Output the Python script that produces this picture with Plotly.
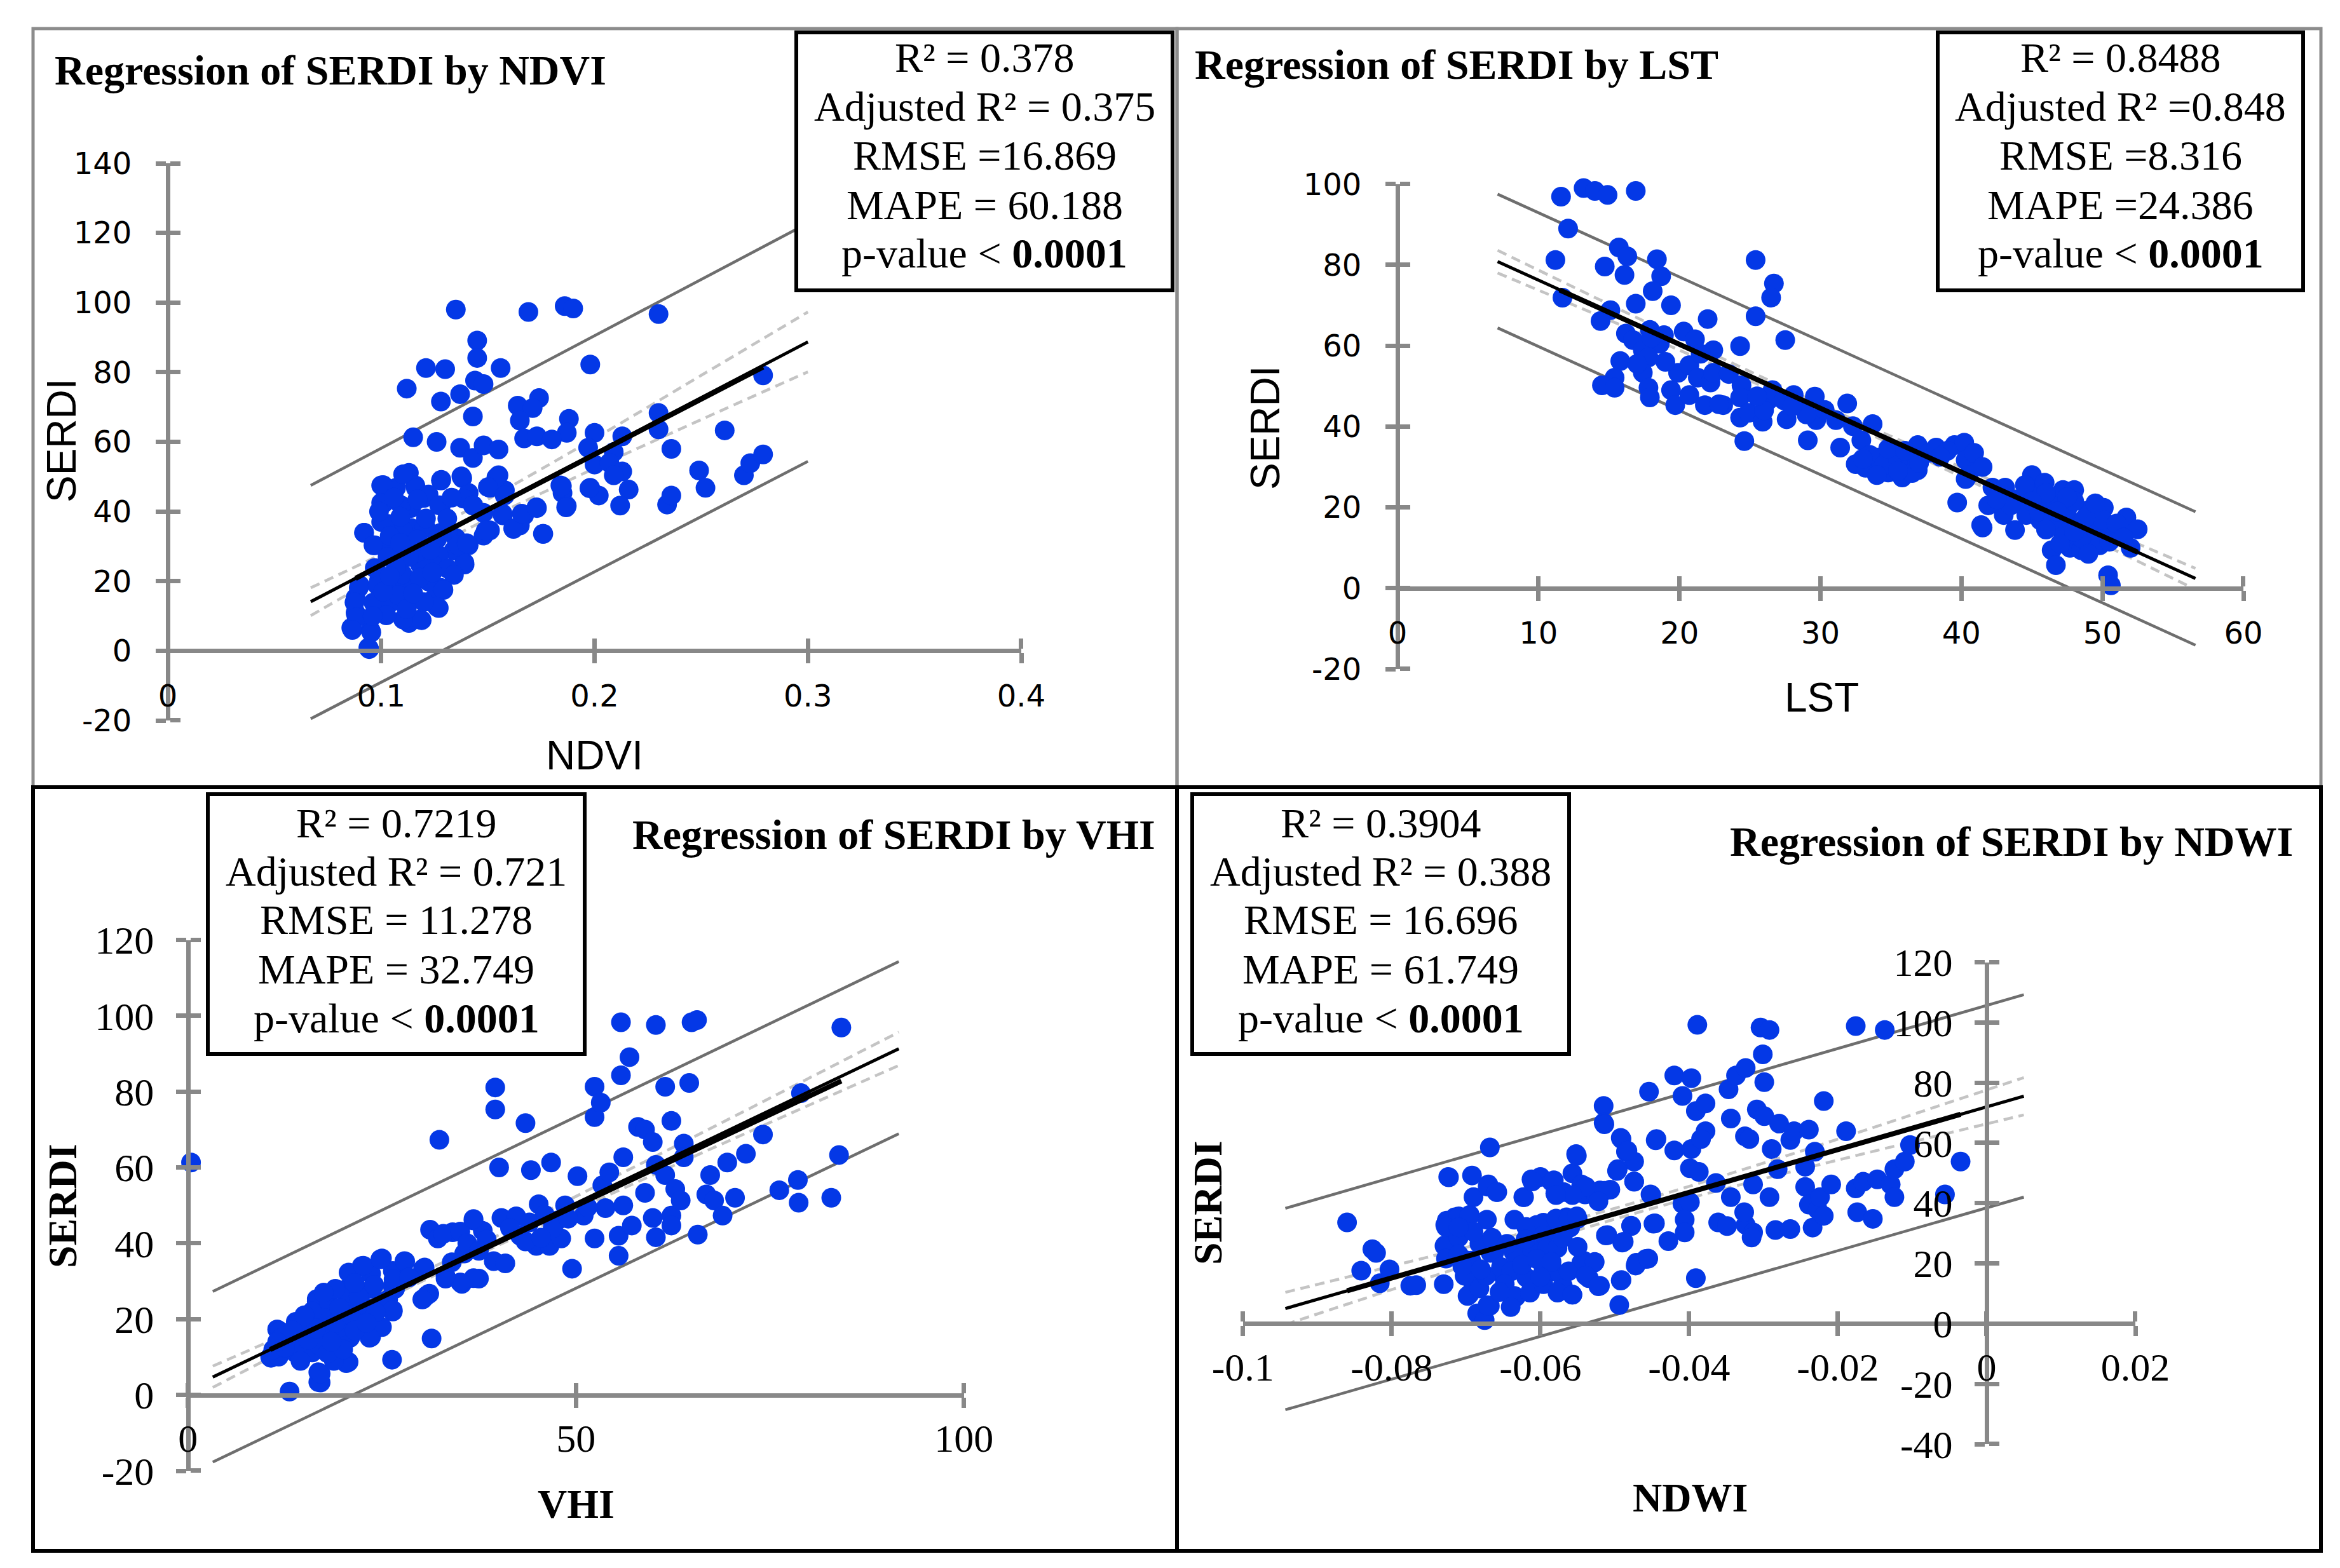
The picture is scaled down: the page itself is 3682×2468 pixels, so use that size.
import plotly.graph_objects as go

W, H = 3682, 2468
BLUE = '#0438E6'
AXC = '#888888'
PREDC = '#6E6E6E'
CONFC = '#C4C4C4'

# ---------------- data ----------------
ndvi_points = [
    (0.135, 98.0), (0.169, 97.3), (0.186, 99.0), (0.190, 98.3), (0.230, 96.7), (0.145, 89.1), (0.145, 84.1),
    (0.121, 81.2), (0.130, 80.9), (0.156, 81.2), (0.198, 82.2), (0.144, 77.6), (0.148, 76.6), (0.112, 75.3),
    (0.137, 73.7), (0.128, 71.6), (0.174, 72.6), (0.164, 70.4), (0.171, 69.7), (0.165, 66.1), (0.143, 67.3),
    (0.188, 66.6), (0.279, 79.1), (0.230, 68.3), (0.230, 63.6), (0.261, 63.3), (0.200, 62.6), (0.187, 62.6),
    (0.167, 61.0), (0.173, 61.6), (0.180, 60.7), (0.213, 61.6), (0.115, 61.3), (0.126, 60.0), (0.137, 58.3),
    (0.143, 55.4), (0.148, 59.0), (0.155, 57.8), (0.197, 58.3), (0.236, 58.0), (0.209, 57.1), (0.200, 53.5),
    (0.207, 54.0), (0.249, 51.8), (0.213, 51.5), (0.209, 50.4), (0.216, 46.3), (0.252, 46.8), (0.184, 47.5),
    (0.185, 45.3), (0.187, 41.6), (0.198, 46.8), (0.202, 44.6), (0.212, 41.7), (0.234, 42.0), (0.236, 44.6),
    (0.270, 50.4), (0.273, 53.9), (0.279, 56.4), (0.155, 50.4), (0.151, 46.8), (0.158, 46.1), (0.138, 49.6),
    (0.128, 48.9), (0.113, 51.1), (0.141, 45.3), (0.143, 41.7), (0.148, 39.6), (0.157, 38.9), (0.167, 38.9),
    (0.173, 41.0), (0.162, 35.0), (0.165, 36.0), (0.176, 33.6), (0.151, 34.6), (0.148, 33.1), (0.128, 41.7),
    (0.120, 43.9), (0.100, 47.5), (0.102, 43.9), (0.100, 42.5), (0.107, 46.8), (0.116, 47.5), (0.121, 44.6),
    (0.114, 41.0), (0.092, 33.9), (0.097, 30.3), (0.106, 36.0), (0.114, 35.3), (0.121, 35.3), (0.128, 33.9),
    (0.135, 32.4), (0.141, 30.3), (0.134, 28.8), (0.127, 27.4), (0.139, 25.3), (0.134, 22.4), (0.128, 18.1),
    (0.125, 15.2), (0.127, 12.3), (0.119, 8.8), (0.113, 8.0), (0.095, 5.9), (0.086, 6.6), (0.094, 0.9),
    (0.088, 15.2), (0.090, 18.8), (0.088, 10.9), (0.099, 20.2), (0.097, 23.8),
    (0.1009, 47.6), (0.1103, 50.7), (0.1163, 46.7), (0.1014, 42.5), (0.1093, 41.8), (0.1222, 44.9),
    (0.1282, 49.1), (0.1272, 41.8), (0.1376, 50.1), (0.1386, 43.7), (0.1431, 41.8), (0.1540, 49.8),
    (0.1500, 47.0), (0.1579, 44.6), (0.1569, 39.4), (0.1619, 35.2), (0.1659, 39.4), (0.1728, 41.2),
    (0.1758, 33.6), (0.1490, 34.5), (0.1847, 47.3), (0.1867, 41.2), (0.1976, 46.7), (0.0920, 33.9),
    (0.0964, 30.3), (0.1034, 36.4), (0.1103, 34.5), (0.1202, 35.2), (0.1143, 30.3), (0.1262, 32.1),
    (0.1312, 34.5), (0.1361, 30.3), (0.1401, 30.9), (0.0974, 23.6), (0.1063, 26.0), (0.1182, 24.8),
    (0.1242, 24.8), (0.1312, 23.6), (0.1391, 24.8), (0.1341, 21.8), (0.0895, 18.1), (0.0875, 13.9),
    (0.0984, 18.7), (0.1063, 19.9), (0.1143, 18.7), (0.1222, 19.9), (0.1292, 17.5), (0.1262, 12.6),
    (0.0964, 13.9), (0.1044, 13.9), (0.1123, 15.1), (0.1182, 9.0), (0.1103, 9.0), (0.1024, 10.2),
    (0.0885, 9.6), (0.0865, 6.0), (0.0954, 5.3), (0.0944, 0.5), (0.105, 30.0), (0.110, 22.0),
    (0.116, 28.0), (0.108, 16.0), (0.120, 14.0), (0.103, 27.0), (0.112, 12.0), (0.117, 32.0),
    (0.100, 37.0), (0.106, 44.0),
    (0.099, 40.0), (0.104, 33.0), (0.109, 38.5), (0.113, 27.0), (0.118, 21.0), (0.123, 29.0), (0.107, 24.0),
    (0.101, 17.0), (0.096, 10.0), (0.115, 16.5), (0.121, 38.0), (0.131, 38.0), (0.124, 22.5), (0.109, 31.0),
    (0.104, 21.5), (0.117, 43.5), (0.133, 44.0),
]

lst_points = [
    (11.6, 96.9), (13.2, 99.0), (14.0, 98.3), (14.9, 97.3), (16.9, 98.3), (12.1, 89.0), (11.2, 81.2),
    (15.7, 84.3), (16.3, 82.1), (14.7, 79.6), (18.4, 81.4), (18.7, 77.2), (16.1, 77.5), (18.1, 73.5),
    (16.9, 70.4), (19.4, 70.0), (11.7, 71.9), (15.1, 68.8), (14.4, 66.1), (22.0, 66.6), (25.4, 81.2),
    (26.7, 75.4), (26.5, 71.9), (25.4, 67.3), (27.5, 61.4), (24.3, 59.9), (16.2, 63.0), (16.7, 61.4),
    (17.9, 63.9), (18.9, 62.6), (20.3, 63.5), (21.1, 61.6), (22.4, 58.9), (18.6, 60.5), (17.4, 58.9),
    (17.8, 57.1), (15.8, 56.2), (17.4, 53.3), (15.4, 52.1), (14.5, 50.2), (15.4, 49.6), (17.8, 49.6),
    (17.9, 47.2), (19.4, 49.0), (19.7, 45.3), (19.9, 53.3), (20.7, 55.2), (21.3, 52.1), (20.7, 47.8),
    (21.8, 45.3), (22.2, 50.9), (22.4, 53.3), (23.1, 45.3), (24.4, 50.2), (24.3, 47.2), (24.3, 42.2),
    (24.9, 43.4), (24.6, 36.4), (25.9, 41.2), (26.3, 46.5), (26.6, 49.0), (27.4, 46.5), (28.1, 47.8),
    (27.6, 41.8), (28.9, 44.1), (29.6, 47.4), (29.7, 41.6), (29.1, 36.6), (30.3, 44.1), (31.1, 41.6),
    (31.9, 45.7), (31.4, 34.8), (32.3, 40.1), (33.7, 40.6), (32.9, 36.6), (32.5, 30.7), (33.2, 29.8),
    (34.0, 32.3), (34.8, 28.6), (35.0, 32.9), (35.8, 27.4), (35.8, 30.7), (36.9, 29.2), (36.9, 35.4),
    (36.3, 32.3), (37.7, 33.5), (38.2, 34.8), (39.5, 35.4), (40.2, 36.0), (40.3, 31.7), (40.9, 33.5),
    (40.5, 28.0), (40.3, 27.0), (39.7, 21.2), (41.9, 20.5), (42.2, 24.9), (43.1, 24.9), (43.0, 18.1),
    (41.4, 15.6), (41.5, 15.0), (43.8, 14.4), (44.6, 18.1), (45.0, 28.0), (45.1, 24.3), (45.9, 26.1),
    (46.1, 22.4), (46.7, 20.5), (47.2, 24.3), (48.0, 24.3), (46.4, 9.4), (46.7, 5.7), (47.7, 10.0),
    (48.3, 15.6), (49.0, 19.3), (49.3, 11.9), (50.1, 19.9), (50.4, 15.6), (50.4, 3.2), (50.6, 0.7),
    (51.3, 14.4), (51.7, 17.5), (52.0, 10.0), (52.5, 14.6), (48.5, 9.4), (49.8, 10.6), (47.2, 13.7),
    (45.6, 16.8), (47.7, 16.8), (50.9, 13.1), (33.5, 33.0), (34.5, 30.5), (35.5, 31.5), (36.5, 28.5),
    (34.0, 28.0), (37.0, 31.0), (44.0, 22.0), (45.5, 19.0), (46.5, 17.0), (47.5, 19.5), (48.5, 12.5),
    (49.5, 14.5), (50.0, 17.0), (51.0, 16.0), (48.0, 21.5), (46.0, 23.5), (49.0, 8.5), (47.0, 11.0),
    (44.5, 25.5), (39.0, 34.0), (41.5, 30.0), (38.5, 32.5), (29.0, 43.0), (28.0, 45.0), (26.0, 44.0),
    (25.5, 47.5), (22.8, 45.5), (23.5, 53.0), (21.5, 58.0), (19.0, 56.0), (18.0, 62.0), (17.0, 55.5),
    (45.0, 21.5), (46.0, 14.5), (47.5, 22.5), (48.8, 17.5), (49.5, 21.0), (50.5, 11.5), (51.5, 12.5),
    (48.0, 14.0), (43.5, 20.5), (42.5, 22.0), (46.8, 19.0), (34.8, 34.5), (35.5, 29.0), (33.0, 32.0),
    (36.0, 34.0),
]

vhi_points = [
    (0.4, 61.3), (13.1, 0.9), (17.1, 3.3), (16.8, 6.0), (20.7, 8.7), (26.3, 9.3), (31.4, 14.9), (10.6, 10.0),
    (11.5, 17.3), (12.2, 14.0), (13.9, 19.3), (15.9, 19.3), (16.6, 25.3), (17.8, 23.3), (18.8, 16.7),
    (19.7, 14.0), (20.5, 28.0), (21.2, 23.3), (22.1, 19.3), (23.6, 15.3), (24.5, 18.0), (20.7, 32.3),
    (22.4, 34.0), (23.6, 32.0), (25.0, 36.0), (26.4, 32.7), (26.4, 28.7), (26.4, 22.0), (25.5, 24.7),
    (27.9, 35.3), (30.3, 33.3), (30.3, 25.3), (31.1, 26.7), (31.2, 43.6), (32.2, 41.3), (32.4, 67.3),
    (34.1, 42.9), (33.2, 30.7), (35.3, 29.3), (35.6, 37.3), (36.8, 46.0), (37.5, 30.7), (38.0, 43.3),
    (39.6, 81.1), (39.6, 75.3), (40.1, 60.0), (40.4, 46.7), (39.4, 35.3), (40.9, 34.7), (42.3, 47.1),
    (42.8, 42.0), (43.5, 71.7), (44.2, 59.3), (45.2, 50.3), (44.9, 39.3), (46.6, 39.3), (46.8, 61.3),
    (47.6, 46.0), (48.1, 41.3), (48.6, 50.0), (49.5, 33.3), (50.2, 57.7), (51.0, 47.3), (52.4, 81.3),
    (52.4, 73.3), (53.2, 77.1), (52.4, 41.3), (53.4, 55.3), (53.8, 49.3), (54.3, 58.7), (55.8, 98.3),
    (55.8, 84.3), (56.9, 89.1), (56.1, 62.7), (56.1, 50.0), (55.5, 42.0), (55.5, 36.7), (57.2, 44.7),
    (58.0, 70.7), (58.9, 70.0), (58.9, 53.3), (59.9, 66.7), (60.3, 97.6), (60.3, 60.7), (59.9, 46.7),
    (60.3, 41.6), (61.5, 81.3), (61.5, 58.0), (62.3, 72.3), (62.3, 47.3), (62.3, 44.7), (62.8, 54.3),
    (63.5, 51.3), (63.9, 66.3), (63.9, 62.7), (64.6, 82.3), (64.9, 98.3), (65.6, 98.9), (65.7, 42.3),
    (66.8, 52.9), (67.3, 58.0), (67.8, 51.3), (68.9, 47.3), (69.5, 61.3), (70.5, 52.0), (71.9, 63.6),
    (74.1, 68.7), (76.2, 54.0), (78.6, 56.7), (78.7, 50.7), (79.0, 79.6), (82.9, 52.0), (83.9, 63.3),
    (84.2, 96.9),
    (16.8, 3.4), (17.1, 5.6), (10.7, 9.8), (11.7, 10.1), (11.9, 16.8), (14.1, 18.5), (15.7, 19.1),
    (16.6, 24.6), (18.2, 24.1), (20.4, 26.9), (20.8, 32.2), (22.6, 34.1), (24.8, 35.8), (28.0, 35.2),
    (30.5, 33.6), (23.7, 28.0), (25.8, 25.2), (26.4, 22.4), (25.0, 17.9), (23.4, 15.1), (20.9, 15.1),
    (22.0, 20.2), (19.6, 17.9), (17.7, 15.7), (14.9, 13.5), (12.7, 13.5), (20.4, 8.4), (18.8, 9.0),
    (16.0, 11.2), (13.8, 11.2), (19.3, 21.3), (17.7, 20.2), (22.6, 23.5), (24.2, 21.8), (32.9, 42.5),
    (35.1, 43.1), (36.8, 46.4), (35.7, 37.5), (36.8, 30.8), (35.1, 29.7), (33.2, 31.4), (30.8, 26.3),
    (30.2, 25.2), (26.7, 28.0), (38.5, 41.0), (41.5, 44.0), (43.5, 40.5), (46.0, 47.5), (47.0, 44.0),
    (44.0, 45.5), (49.0, 46.5), (51.5, 49.5), (36.0, 40.0), (34.0, 35.0), (37.5, 38.0), (45.5, 41.5),
    (13.0, 15.5), (15.0, 17.0), (17.0, 13.0), (19.0, 19.0), (21.0, 21.0), (14.0, 12.0), (16.0, 22.0),
    (18.0, 11.0), (12.0, 15.0), (11.0, 12.0), (20.0, 12.0), (22.0, 26.0), (24.0, 29.0), (19.0, 28.0),
    (12.5, 12.5), (13.5, 17.0), (15.5, 14.5), (16.5, 17.5), (18.5, 14.0), (19.5, 23.0), (21.5, 17.0),
    (23.0, 19.0), (15.0, 21.0), (17.5, 27.0), (21.5, 29.5), (26.5, 30.5), (28.5, 31.0), (14.5, 9.0),
    (11.5, 14.0),
]

ndwi_points = [
    (-0.0860, 33.6), (-0.0841, 17.6), (-0.0826, 24.7), (-0.0821, 23.5), (-0.0816, 13.4), (-0.0803, 18.0),
    (-0.0775, 12.6), (-0.0730, 13.1), (-0.0724, 48.7), (-0.0692, 49.2), (-0.0668, 58.5), (-0.0670, 46.2),
    (-0.0658, 43.7), (-0.0690, 42.0), (-0.0728, 32.8), (-0.0715, 35.3), (-0.0695, 36.1), (-0.0672, 34.5),
    (-0.0728, 26.1), (-0.0715, 24.4), (-0.0700, 21.0), (-0.0680, 26.1), (-0.0667, 23.5), (-0.0690, 12.6),
    (-0.0698, 9.2), (-0.0685, 3.4), (-0.0675, 1.2), (-0.0668, 5.9), (-0.0650, 16.0), (-0.0635, 9.2),
    (-0.0623, 42.0), (-0.0615, 31.6), (-0.0635, 34.5), (-0.0612, 47.9), (-0.0600, 48.7), (-0.0585, 47.1),
    (-0.0580, 43.2), (-0.0569, 43.7), (-0.0557, 49.9), (-0.0552, 56.3), (-0.0545, 46.2), (-0.0540, 42.9),
    (-0.0525, 42.0), (-0.0520, 44.2), (-0.0506, 44.5), (-0.0515, 72.3), (-0.0515, 66.7), (-0.0492, 61.7),
    (-0.0485, 57.1), (-0.0474, 53.8), (-0.0496, 51.3), (-0.0474, 47.1), (-0.0605, 32.8), (-0.0595, 29.4),
    (-0.0580, 34.5), (-0.0565, 35.3), (-0.0550, 34.8), (-0.0560, 31.9), (-0.0510, 29.4), (-0.0490, 26.9),
    (-0.0478, 32.4), (-0.0545, 20.2), (-0.0528, 20.2), (-0.0535, 15.1), (-0.0520, 12.6), (-0.0557, 9.6),
    (-0.0570, 12.6), (-0.0492, 14.3), (-0.0494, 6.2), (-0.0472, 19.3), (-0.0458, 21.5), (-0.0454, 77.0),
    (-0.0444, 61.3), (-0.0452, 42.9), (-0.0446, 33.3), (-0.0428, 27.4), (-0.0420, 82.4), (-0.0397, 81.5),
    (-0.0409, 75.6), (-0.0420, 57.5), (-0.0397, 58.0), (-0.0399, 51.6), (-0.0387, 50.4), (-0.0389, 99.2),
    (-0.0391, 70.6), (-0.0378, 73.1), (-0.0378, 63.9), (-0.0384, 61.3), (-0.0409, 39.8), (-0.0399, 40.3),
    (-0.0406, 34.5), (-0.0406, 30.3), (-0.0391, 15.1), (-0.0364, 46.7), (-0.0361, 33.6), (-0.0349, 32.4),
    (-0.0347, 77.8), (-0.0344, 68.1), (-0.0344, 42.0), (-0.0337, 82.4), (-0.0324, 84.9), (-0.0324, 32.8),
    (-0.0325, 62.2), (-0.0319, 61.3), (-0.0326, 37.0), (-0.0314, 46.2), (-0.0314, 30.3), (-0.0316, 28.6),
    (-0.0304, 98.3), (-0.0292, 97.5), (-0.0301, 89.4), (-0.0299, 80.2), (-0.0309, 71.1), (-0.0299, 68.9),
    (-0.0289, 58.0), (-0.0284, 31.1), (-0.0292, 42.0), (-0.0279, 66.4), (-0.0281, 51.3), (-0.0264, 31.4),
    (-0.0264, 61.0), (-0.0259, 63.9), (-0.0239, 64.4), (-0.0244, 52.1), (-0.0244, 45.4), (-0.0239, 39.5),
    (-0.0234, 31.9), (-0.0231, 57.1), (-0.0227, 37.8), (-0.0219, 73.9), (-0.0219, 35.8), (-0.0224, 42.0),
    (-0.0209, 46.2), (-0.0189, 63.9), (-0.0176, 98.8), (-0.0137, 97.5), (-0.0176, 44.9), (-0.0174, 37.0),
    (-0.0166, 47.1), (-0.0153, 34.8), (-0.0147, 47.9), (-0.0129, 46.2), (-0.0124, 42.0), (-0.0124, 51.3),
    (-0.0110, 53.8), (-0.0103, 59.3), (-0.0056, 42.9), (-0.0035, 53.8),
    (-0.0723, 48.6), (-0.0671, 45.5), (-0.0659, 43.7), (-0.0551, 55.7), (-0.0514, 66.2), (-0.0491, 61.3),
    (-0.0483, 57.4), (-0.0497, 50.7), (-0.0474, 47.2), (-0.0445, 60.9), (-0.0622, 42.0), (-0.0611, 47.2),
    (-0.0582, 47.6), (-0.0539, 45.5), (-0.0514, 44.1), (-0.0522, 40.6), (-0.0557, 42.7), (-0.0579, 42.7),
    (-0.0451, 42.7), (-0.0448, 33.2), (-0.0478, 32.5), (-0.0512, 29.3), (-0.0488, 27.2), (-0.0619, 32.1),
    (-0.0596, 33.5), (-0.0579, 34.9), (-0.0562, 34.9), (-0.0551, 35.6), (-0.0596, 29.3), (-0.0726, 34.2),
    (-0.0710, 35.6), (-0.0696, 35.6), (-0.0727, 32.1), (-0.0729, 25.8), (-0.0710, 28.6), (-0.0682, 26.5),
    (-0.0662, 23.7), (-0.0727, 21.6), (-0.0710, 23.0), (-0.0693, 20.9), (-0.0767, 12.8), (-0.0702, 15.9),
    (-0.0696, 9.6), (-0.0682, 11.7), (-0.0671, 6.1), (-0.0673, 15.9), (-0.0653, 18.8), (-0.0636, 23.7),
    (-0.0631, 21.6), (-0.0611, 24.4), (-0.0591, 25.1), (-0.0577, 25.1), (-0.0639, 17.4), (-0.0619, 15.3),
    (-0.0596, 18.8), (-0.0582, 17.4), (-0.0562, 17.4), (-0.0648, 13.1), (-0.0633, 8.9), (-0.0614, 10.3),
    (-0.0596, 13.1), (-0.0577, 10.3), (-0.0557, 9.6), (-0.0542, 20.9), (-0.0527, 20.5), (-0.0539, 15.9),
    (-0.0522, 12.4), (-0.0491, 14.5), (-0.0471, 20.2), (-0.0455, 21.6),
    (-0.0705, 19.0), (-0.0690, 30.5), (-0.0665, 28.5), (-0.0645, 26.5), (-0.0625, 19.5), (-0.0605, 21.5),
    (-0.0585, 20.5), (-0.0600, 15.5), (-0.0655, 10.5), (-0.0680, 18.0), (-0.0620, 28.0), (-0.0570, 28.5),
    (-0.0550, 25.5), (-0.0640, 5.5), (-0.0710, 32.0),
]

# regression lines (fit, confidence band, prediction band)
ndvi_fit_x, ndvi_fit_y = [0.067, 0.300], [14.1, 88.7]
ndvi_fitdata_x, ndvi_fitdata_y = [0.088, 0.279], [20.8, 81.5]
ndvi_conf_x = [0.067, 0.13, 0.20, 0.25, 0.30]
ndvi_conf_hi = [18.1, 36.9, 61.0, 79.1, 97.3]
ndvi_conf_lo = [10.1, 31.7, 52.4, 66.4, 80.1]
ndvi_pred_x, ndvi_pred_hi, ndvi_pred_lo = [0.067, 0.300], [47.5, 122.8], [-19.5, 54.4]

lst_fit_x, lst_fit_y = [7.1, 56.6], [80.8, 2.4]
lst_fitdata_x, lst_fitdata_y = [11.5, 52.5], [73.8, 8.9]
lst_conf_x = [7.1, 20.0, 32.0, 45.0, 56.6]
lst_conf_hi = [83.6, 61.9, 42.3, 22.3, 4.9]
lst_conf_lo = [78.0, 58.9, 40.5, 19.3, -0.3]
lst_pred_x, lst_pred_hi, lst_pred_lo = [7.1, 56.6], [97.5, 18.9], [64.4, -14.1]

vhi_fit_x, vhi_fit_y = [3.2, 91.6], [4.7, 91.3]
vhi_fitdata_x, vhi_fitdata_y = [10.6, 84.2], [12.0, 82.8]
vhi_conf_x = [3.2, 30.0, 60.0, 91.6]
vhi_conf_hi = [7.6, 32.2, 62.7, 95.7]
vhi_conf_lo = [2.0, 29.8, 58.1, 86.9]
vhi_pred_x, vhi_pred_hi, vhi_pred_lo = [3.2, 91.6], [27.3, 114.3], [-17.7, 68.9]

ndwi_fit_x, ndwi_fit_y = [-0.0943, 0.005], [5.0, 75.5]
ndwi_fitdata_x, ndwi_fitdata_y = [-0.086, -0.0035], [10.9, 69.5]
ndwi_conf_x = [-0.0943, -0.07, -0.05, -0.03, 0.005]
ndwi_conf_hi = [10.4, 25.3, 38.3, 53.3, 81.7]
ndwi_conf_lo = [-0.3, 19.3, 34.7, 48.1, 69.3]
ndwi_pred_x, ndwi_pred_hi, ndwi_pred_lo = [-0.0943, 0.005], [38.3, 109.2], [-28.6, 42.0]

# tick values / labels
ndvi_xticks = [0, 0.1, 0.2, 0.3, 0.4]
ndvi_xlabels = ['0', '0.1', '0.2', '0.3', '0.4']
ndvi_yticks = [-20, 0, 20, 40, 60, 80, 100, 120, 140]
lst_xticks = [0, 10, 20, 30, 40, 50, 60]
lst_yticks = [-20, 0, 20, 40, 60, 80, 100]
vhi_xticks = [0, 50, 100]
vhi_yticks = [-20, 0, 20, 40, 60, 80, 100, 120]
ndwi_xticks = [-0.1, -0.08, -0.06, -0.04, -0.02, 0, 0.02]
ndwi_xlabels = ['-0.1', '-0.08', '-0.06', '-0.04', '-0.02', '0', '0.02']
ndwi_yticks = [-40, -20, 0, 20, 40, 60, 80, 100, 120]

titles = ['Regression of SERDI by NDVI', 'Regression of SERDI by LST',
          'Regression of SERDI by VHI', 'Regression of SERDI by NDWI']
stats = [
    ['R² = 0.378', 'Adjusted R² = 0.375', 'RMSE =16.869', 'MAPE = 60.188', 'p-value &lt; <b>0.0001</b>'],
    ['R² = 0.8488', 'Adjusted R² =0.848', 'RMSE =8.316', 'MAPE =24.386', 'p-value &lt; <b>0.0001</b>'],
    ['R² = 0.7219', 'Adjusted R² = 0.721', 'RMSE = 11.278', 'MAPE = 32.749', 'p-value &lt; <b>0.0001</b>'],
    ['R² = 0.3904', 'Adjusted R² = 0.388', 'RMSE = 16.696', 'MAPE = 61.749', 'p-value &lt; <b>0.0001</b>'],
]
xtitles = ['NDVI', 'LST', '<b>VHI</b>', '<b>NDWI</b>']

SANS = 'DejaVu Sans'
ASANS = 'Liberation Sans'
SERIF = 'Liberation Serif'

def lab(v):
    return [str(int(t)) if float(t).is_integer() else str(t) for t in v]

panels = [
    dict(pts=ndvi_points, fit=(ndvi_fit_x, ndvi_fit_y), fitd=(ndvi_fitdata_x, ndvi_fitdata_y),
         conf=(ndvi_conf_x, ndvi_conf_hi, ndvi_conf_lo), pred=(ndvi_pred_x, ndvi_pred_hi, ndvi_pred_lo),
         xt=ndvi_xticks, xl=ndvi_xlabels, yt=ndvi_yticks, xr=[0, 0.4], yr=[-20, 140],
         px=(256, 1599), py=(249, 1126), tick_font=dict(family=SANS, size=48, color='black'),
         xso=10, yso=28,
         title_pos=(76, 103, 'left'), box=(1245, 1837, 43, 449), line_y=[83, 159, 236.5, 314, 391],
         ytitle=(89, 685), xtitle=(927.5, 1181), title_font=ASANS),
    dict(pts=lst_points, fit=(lst_fit_x, lst_fit_y), fitd=(lst_fitdata_x, lst_fitdata_y),
         conf=(lst_conf_x, lst_conf_hi, lst_conf_lo), pred=(lst_pred_x, lst_pred_hi, lst_pred_lo),
         xt=lst_xticks, xl=lab(lst_xticks), yt=lst_yticks, xr=[0, 60], yr=[-20, 100],
         px=(2191, 3522), py=(281.7, 1045), tick_font=dict(family=SANS, size=48, color='black'),
         xso=10, yso=28,
         title_pos=(1870, 93, 'left'), box=(3041, 3616, 43, 449), line_y=[83, 159, 236.5, 314, 391],
         ytitle=(1983, 665), xtitle=(2858, 1090), title_font=ASANS),
    dict(pts=vhi_points, fit=(vhi_fit_x, vhi_fit_y), fitd=(vhi_fitdata_x, vhi_fitdata_y),
         conf=(vhi_conf_x, vhi_conf_hi, vhi_conf_lo), pred=(vhi_pred_x, vhi_pred_hi, vhi_pred_lo),
         xt=vhi_xticks, xl=lab(vhi_xticks), yt=vhi_yticks, xr=[0, 100], yr=[-20, 120],
         px=(287.7, 1508.8), py=(1471.5, 2307), tick_font=dict(family=SERIF, size=62, color='black'),
         xso=-5, yso=22,
         title_pos=(1812, 1305, 'right'), box=(319, 912, 1242, 1651),
         line_y=[1287.6, 1363, 1440, 1517, 1594],
         ytitle=(90, 1890), xtitle=(898, 2359), title_font=SERIF),
    dict(pts=ndwi_points, fit=(ndwi_fit_x, ndwi_fit_y), fitd=(ndwi_fitdata_x, ndwi_fitdata_y),
         conf=(ndwi_conf_x, ndwi_conf_hi, ndwi_conf_lo), pred=(ndwi_pred_x, ndwi_pred_hi, ndwi_pred_lo),
         xt=ndwi_xticks, xl=ndwi_xlabels, yt=ndwi_yticks, xr=[-0.1, 0.02], yr=[-40, 120],
         px=(1947.8, 3352), py=(1506.5, 2265), tick_font=dict(family=SERIF, size=62, color='black'),
         xso=-5, yso=22,
         title_pos=(3602, 1316, 'right'), box=(1868, 2461, 1242, 1651),
         line_y=[1287.6, 1363, 1440, 1517, 1594],
         ytitle=(1892, 1885), xtitle=(2651, 2349), title_font=SERIF),
]

fig = go.Figure()
layout = dict(template='none', width=W, height=H, autosize=False, margin=dict(l=0, r=0, t=0, b=0, pad=0),
              paper_bgcolor='white', plot_bgcolor='white', showlegend=False)
annotations = []
shapes = []

def fx(px):
    return px / W

def fy(py):
    return 1 - py / H

# panel frames
for (x0, x1, y0, y1, col, lw) in [(44, 1844, 37, 1231, '#8C8C8C', 5), (1844, 3644, 37, 1231, '#8C8C8C', 5),
                                  (44, 1844, 1231, 2433, 'black', 6), (1844, 3644, 1231, 2433, 'black', 6)]:
    shapes.append(dict(type='rect', xref='paper', yref='paper', x0=fx(x0), x1=fx(x1), y0=fy(y1), y1=fy(y0),
                       line=dict(color=col, width=lw), fillcolor='rgba(0,0,0,0)', layer='above'))

for i, p in enumerate(panels, start=1):
    xa = 'x' if i == 1 else f'x{i}'
    ya = 'y' if i == 1 else f'y{i}'
    xk = 'xaxis' if i == 1 else f'xaxis{i}'
    yk = 'yaxis' if i == 1 else f'yaxis{i}'
    dx = [fx(p['px'][0]), fx(p['px'][1])]
    dy = [fy(p['py'][1]), fy(p['py'][0])]
    xr, yr = p['xr'], p['yr']
    xpos = dy[0] + (0 - yr[0]) / (yr[1] - yr[0]) * (dy[1] - dy[0])
    ypos = dx[0] + (0 - xr[0]) / (xr[1] - xr[0]) * (dx[1] - dx[0])
    ex = (xr[1] - xr[0]) * 1e-5
    ey = (yr[1] - yr[0]) * 1e-5
    common = dict(showline=True, linecolor=AXC, linewidth=7, ticks='outside', ticklen=16, tickwidth=7,
                  tickcolor=AXC, showgrid=False, zeroline=False, tickmode='array', anchor='free',
                  automargin=False, tickfont=p['tick_font'], layer='above traces')
    layout[xk] = dict(common, domain=dx, range=xr, position=xpos, tickvals=p['xt'], ticktext=p['xl'],
                      ticklabelstandoff=p['xso'],
                      minor=dict(tickmode='array', tickvals=[v + ex if v < xr[1] else v - ex for v in p['xt']],
                                 ticks='inside', ticklen=16, tickwidth=7, tickcolor=AXC, showgrid=False))
    layout[yk] = dict(common, domain=dy, range=yr, position=ypos, tickvals=p['yt'], ticktext=lab(p['yt']),
                      ticklabelstandoff=p['yso'],
                      minor=dict(tickmode='array', tickvals=[v + ey if v < yr[1] else v - ey for v in p['yt']],
                                 ticks='inside', ticklen=16, tickwidth=7, tickcolor=AXC, showgrid=False))

    cx, chi, clo = p['conf']
    pxs, phi, plo = p['pred']
    for yy in (phi, plo):
        fig.add_trace(go.Scatter(x=pxs, y=yy, mode='lines', line=dict(color=PREDC, width=4.5),
                                 xaxis=xa, yaxis=ya, hoverinfo='skip'))
    for yy in (chi, clo):
        fig.add_trace(go.Scatter(x=cx, y=yy, mode='lines', line=dict(color=CONFC, width=4.5, dash='15px,9px'),
                                 line_shape='spline', xaxis=xa, yaxis=ya, hoverinfo='skip'))
    fig.add_trace(go.Scatter(x=[q[0] for q in p['pts']], y=[q[1] for q in p['pts']], mode='markers',
                             marker=dict(color=BLUE, size=31, line=dict(width=0)), cliponaxis=False,
                             xaxis=xa, yaxis=ya))
    fig.add_trace(go.Scatter(x=p['fit'][0], y=p['fit'][1], mode='lines', line=dict(color='black', width=5),
                             xaxis=xa, yaxis=ya, hoverinfo='skip'))
    fig.add_trace(go.Scatter(x=p['fitd'][0], y=p['fitd'][1], mode='lines', line=dict(color='black', width=8),
                             xaxis=xa, yaxis=ya, hoverinfo='skip'))

    # title
    tx, ty, tanc = p['title_pos']
    annotations.append(dict(text='<b>' + titles[i - 1] + '</b>', x=fx(tx), y=fy(ty), xref='paper', yref='paper',
                            xanchor=tanc, yanchor='middle', showarrow=False,
                            font=dict(family=SERIF, size=66, color='black')))
    # stats box
    bx0, bx1, by0, by1 = p['box']
    shapes.append(dict(type='rect', xref='paper', yref='paper', x0=fx(bx0), x1=fx(bx1), y0=fy(by1), y1=fy(by0),
                       line=dict(color='black', width=6), fillcolor='white', layer='above'))
    for txt, ly in zip(stats[i - 1], p['line_y']):
        annotations.append(dict(text=txt, x=fx((bx0 + bx1) / 2), y=fy(ly), xref='paper', yref='paper',
                                xanchor='center', yanchor='middle', showarrow=False,
                                font=dict(family=SERIF, size=66, color='black')))
    # axis titles
    if p['title_font'] == ASANS:
        ytxt = 'SERDI'
        tf = dict(family=ASANS, size=64, color='black')
    else:
        ytxt = '<b>SERDI</b>'
        tf = dict(family=SERIF, size=64, color='black')
    annotations.append(dict(text=ytxt, x=fx(p['ytitle'][0]), y=fy(p['ytitle'][1]), xref='paper', yref='paper',
                            xanchor='center', yanchor='middle', textangle=-90, showarrow=False, font=tf))
    annotations.append(dict(text=xtitles[i - 1], x=fx(p['xtitle'][0]), y=fy(p['xtitle'][1]), xref='paper',
                            yref='paper', xanchor='center', yanchor='middle', showarrow=False, font=tf))

layout['annotations'] = annotations
layout['shapes'] = shapes
fig.update_layout(**layout)
fig.write_html('out.html')
